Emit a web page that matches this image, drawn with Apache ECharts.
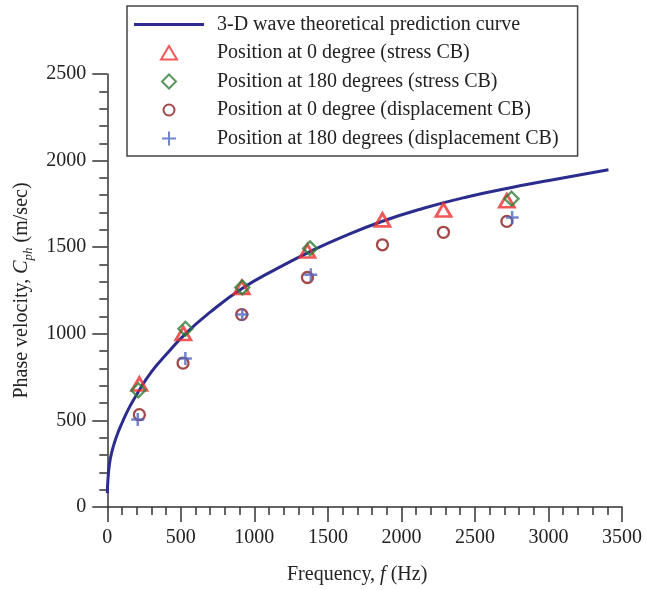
<!DOCTYPE html>
<html>
<head>
<meta charset="utf-8">
<script src="https://cdn.jsdelivr.net/npm/echarts@6/dist/echarts.min.js"></script>
<style>
html,body{margin:0;padding:0;background:#fff;}
#c{width:647px;height:590px;}
</style>
</head>
<body>
<div id="c"></div>
<script>
// Theoretical curve [frequency Hz, phase velocity m/s]
var curveData = [[0,80],[5,165],[15,250],[30,315],[50,375],[75,435],[100,485],[150,575],[211,665],[300,780],[400,880],[531,1000],[700,1125],[914,1260],[1150,1375],[1379,1475],[1600,1560],[1871,1650],[2150,1725],[2445,1790],[2750,1845],[3012,1886],[3200,1915],[3408,1947]];
var stress0 = [[218,710],[517,1002],[914,1268],[1361,1478],[1871,1658],[2286,1715],[2717,1768]];
var stress180 = [[211,674],[531,1029],[918,1268],[1379,1493],[2749,1780]];
var disp0 = [[218,533],[515,831],[914,1111],[1361,1325],[1871,1514],[2286,1586],[2717,1649]];
var disp180 = [[207,505],[531,858],[918,1111],[1384,1341],[2753,1672]];
var seriesNames = ['3-D wave theoretical prediction curve','Position at 0 degree (stress CB)','Position at 180 degrees (stress CB)','Position at 0 degree (displacement CB)','Position at 180 degrees (displacement CB)'];
var xTicks = [0,500,1000,1500,2000,2500,3000,3500];
var yTicks = [0,500,1000,1500,2000,2500];

var FONT = "'Liberation Serif','Times New Roman',serif";
var TXT = '#222';
var chart = echarts.init(document.getElementById('c'), null, {renderer:'canvas'});
var axisCommon = {
  axisLine:{show:true,onZero:false,lineStyle:{color:'#333',width:1.5}},
  axisTick:{show:true,inside:false,length:15,lineStyle:{color:'#333',width:1.5}},
  minorTick:{show:true,splitNumber:5,length:8,lineStyle:{color:'#333',width:1.5}},
  splitLine:{show:false},
  axisLabel:{fontFamily:FONT,fontSize:20,color:TXT,margin:21,formatter:function(v){return String(v);}}
};
// legend icons drawn inside a 70x14 box
var icons = [
  'path://M0,5.5L70,5.5L70,8.5L0,8.5Z',
  'path://M0,0M70,14M27,13.5L35,0L43,13.5Z',
  'path://M0,0M70,14M35,0L42,7L35,14L28,7Z',
  'path://M0,0M70,14M35,1.5A5.5,5.5,0,1,1,34.99,1.5Z',
  'path://M0,0M70,14M35,0L35,14M28,7L42,7'
];
chart.setOption({
  animation:false,
  backgroundColor:'#fff',
  grid:{left:107.3,right:25,top:74,bottom:77.5,containLabel:false},
  legend:{
    left:127,top:6,orient:'vertical',
    padding:[8.5,19,7.5,6],
    borderColor:'#444',borderWidth:1.5,backgroundColor:'#fff',
    itemWidth:70,itemHeight:14,itemGap:8.5,
    textStyle:{fontFamily:FONT,fontSize:20,color:TXT,lineHeight:20,padding:[0,0,0,8]},
    data:seriesNames.map(function(n,i){return {name:n,icon:icons[i]};})
  },
  xAxis:Object.assign({}, axisCommon, {
    type:'value',min:xTicks[0],max:xTicks[xTicks.length-1],interval:500,
    name:'Frequency, {i|f} (Hz)',nameLocation:'middle',nameGap:58,
    nameTextStyle:{fontFamily:FONT,fontSize:20,color:TXT,padding:[0,15,0,0],
      rich:{i:{fontFamily:FONT,fontSize:20,fontStyle:'italic',color:TXT}}}
  }),
  yAxis:Object.assign({}, axisCommon, {
    type:'value',min:yTicks[0],max:yTicks[yTicks.length-1],interval:500,
    name:'Phase velocity, {i|C}{sub|ph} (m/sec)',nameLocation:'middle',nameGap:70,
    nameTextStyle:{fontFamily:FONT,fontSize:20,color:TXT,lineHeight:24,
      rich:{i:{fontFamily:FONT,fontSize:20,fontStyle:'italic',color:TXT,lineHeight:24},
            sub:{fontFamily:FONT,fontSize:13,fontStyle:'italic',color:TXT,lineHeight:24,verticalAlign:'bottom',padding:[0,0,-2,0]}}}
  }),
  series:[
    {name:seriesNames[0],type:'line',data:curveData,smooth:true,symbol:'none',showSymbol:false,
     lineStyle:{color:'#2b2c8e',width:3},itemStyle:{color:'#2b2c8e'},z:2},
    {name:seriesNames[1],type:'scatter',data:stress0,symbol:'triangle',symbolSize:[15,13],
     itemStyle:{color:'rgba(255,255,255,0)',borderColor:'#ee2f2f',borderWidth:2.8},z:4},
    {name:seriesNames[2],type:'scatter',data:stress180,symbol:'diamond',symbolSize:[14,14],
     itemStyle:{color:'rgba(255,255,255,0)',borderColor:'#2e7d34',borderWidth:2.3},z:5},
    {name:seriesNames[3],type:'scatter',data:disp0,symbol:'circle',symbolSize:11,
     itemStyle:{color:'rgba(255,255,255,0)',borderColor:'#8a1c1c',borderWidth:2.3},z:3},
    {name:seriesNames[4],type:'scatter',data:disp180,symbol:'path://M5,0L5,10M0,5L10,5',symbolSize:13,
     itemStyle:{color:'rgba(255,255,255,0)',borderColor:'#5068c0',borderWidth:2.5},z:6}
  ]
});
</script>
</body>
</html>
